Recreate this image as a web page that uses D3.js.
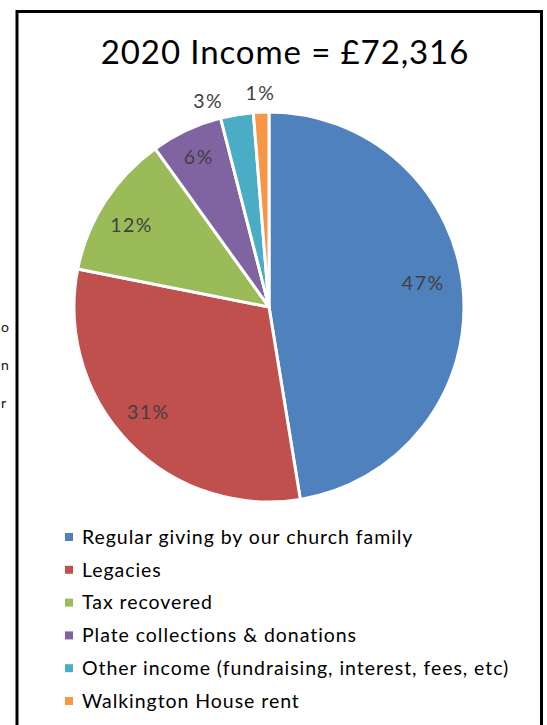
<!DOCTYPE html>
<html>
<head>
<meta charset="utf-8">
<script src="https://cdn.jsdelivr.net/npm/d3@7"></script>
<style>
html,body{margin:0;padding:0;background:#fff;}
svg{display:block;}
</style>
</head>
<body>
<svg id="chart" width="547" height="725"></svg>
<script>
const title = "2020 Income = £72,316";
const categories = [
  "Regular giving by our church family",
  "Legacies",
  "Tax recovered",
  "Plate collections & donations",
  "Other income (fundraising, interest, fees, etc)",
  "Walkington House rent"
];
const values = [34300, 22200, 8640, 4290, 1960, 926];
const colors = ["#4F81BD", "#C0504D", "#9BBB59", "#8064A2", "#4BACC6", "#F79646"];
const leftFragments = ["o", "n", "r"];

const font = "'Century Gothic','URW Gothic','Lato','DejaVu Sans',sans-serif";
const svg = d3.select("#chart");

// frame
svg.append("path")
  .attr("d", "M17,725 V11.5 H541.5 V725")
  .attr("fill", "none").attr("stroke", "#000").attr("stroke-width", 3);

// text fragments from the page at the left edge
const fragY = d3.scaleLinear().domain([0, 2]).range([332, 408]);
svg.selectAll("text.frag").data(leftFragments).join("text")
  .attr("class", "frag")
  .attr("x", 1).attr("y", (d, i) => fragY(i))
  .attr("font-family", font).attr("font-size", 14).attr("fill", "#111")
  .text(d => d);

// title
svg.append("text")
  .attr("x", 285).attr("y", 64)
  .attr("text-anchor", "middle")
  .attr("font-family", font).attr("font-size", 33).attr("letter-spacing", 0.9)
  .attr("fill", "#000")
  .text(title);

// pie
const cx = 269, cy = 307, R = 195;
const total = d3.sum(values);
const pie = d3.pie().sort(null).value(d => d)(values);
const arc = d3.arc().innerRadius(0).outerRadius(R);
const g = svg.append("g").attr("transform", `translate(${cx},${cy})`);
g.selectAll("path").data(pie).join("path")
  .attr("d", arc)
  .attr("fill", (d, i) => colors[i])
  .attr("stroke", "#fff").attr("stroke-width", 3).attr("stroke-linejoin", "round");

// labels: inside for big slices, outside for small (best fit)
const labelRadius = [0.80, 0.82, 0.82, 0.85, 1.10, 1.10];
const labelShift = [-4, 3, -2, 0, -7, 0]; // degrees
g.selectAll("text.lbl").data(pie).join("text")
  .attr("class", "lbl")
  .attr("transform", (d, i) => {
    const a = (d.startAngle + d.endAngle) / 2 + labelShift[i] * Math.PI / 180;
    const r = R * labelRadius[i];
    return `translate(${r * Math.sin(a)},${-r * Math.cos(a)})`;
  })
  .attr("text-anchor", "middle").attr("dy", "0.35em")
  .attr("font-family", font).attr("font-size", 19.5).attr("letter-spacing", 1.5)
  .attr("fill", "#404040")
  .text(d => Math.round(d.value / total * 100) + "%");

// legend
const ly = d3.scalePoint().domain(categories).range([537, 701]);
const leg = svg.append("g");
leg.selectAll("rect").data(categories).join("rect")
  .attr("x", 65).attr("y", d => ly(d) - 4).attr("width", 8).attr("height", 8)
  .attr("fill", (d, i) => colors[i]);
leg.selectAll("text").data(categories).join("text")
  .attr("x", 82).attr("y", d => ly(d)).attr("dy", "0.35em")
  .attr("font-family", font).attr("font-size", 19.5).attr("letter-spacing", 0.95)
  .attr("fill", "#000")
  .text(d => d);
</script>
</body>
</html>
